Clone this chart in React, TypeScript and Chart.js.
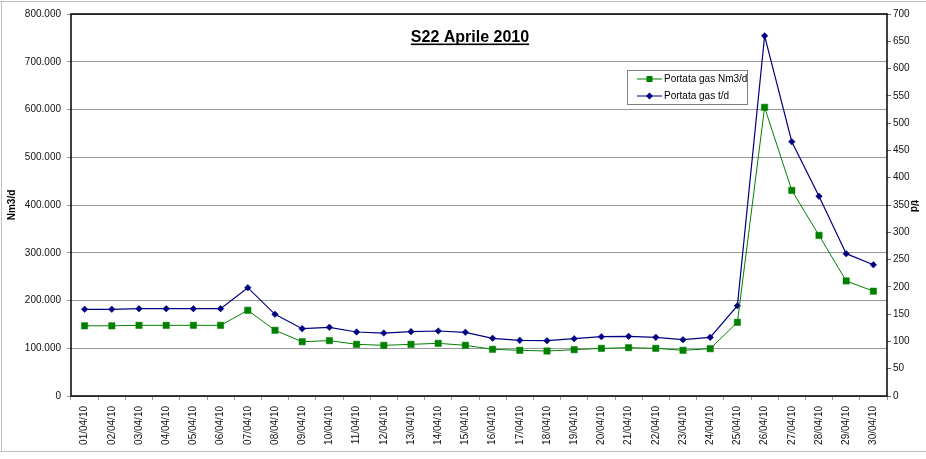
import React, { useEffect, useRef } from "react";
import { Chart, registerables } from "chart.js";

Chart.register(...registerables);

const categories = [
  "01/04/10", "02/04/10", "03/04/10", "04/04/10", "05/04/10", "06/04/10",
  "07/04/10", "08/04/10", "09/04/10", "10/04/10", "11/04/10", "12/04/10",
  "13/04/10", "14/04/10", "15/04/10", "16/04/10", "17/04/10", "18/04/10",
  "19/04/10", "20/04/10", "21/04/10", "22/04/10", "23/04/10", "24/04/10",
  "25/04/10", "26/04/10", "27/04/10", "28/04/10", "29/04/10", "30/04/10",
];

const portataNm3 = [
  147000, 147000, 148000, 148000, 148000, 148000, 179500, 137600, 113700, 116000,
  108200, 106100, 108200, 110300, 106200, 97800, 95700, 94200, 97000, 99800,
  101200, 99800, 95700, 99100, 154300, 604600, 430500, 336500, 241000, 219500,
];

const portataTd = [
  158.9, 158.9, 160, 160, 160, 160, 198.5, 149.7, 123.4, 125.9,
  117.3, 115.4, 117.9, 119.1, 116.7, 105.7, 102, 101.3, 105, 108.7,
  109.3, 107.5, 103.2, 107.5, 165.5, 660, 466, 366, 260.8, 240.6,
];

const titleText = "S22 Aprile 2010";
const leftAxisTitle = "Nm3/d";
const rightAxisTitle = "t/d";
const seriesNames = ["Portata gas Nm3/d", "Portata gas t/d"];

const FONT = "'Liberation Sans', Arial, sans-serif";
const GREEN = "#008000";
const NAVY = "#000080";

function fmtIt(v: number): string {
  const s = Math.round(v).toString();
  return s.replace(/\B(?=(\d{3})+(?!\d))/g, ".");
}

const decorPlugin = {
  id: "decor",
  beforeDatasetsDraw(chart: any) {
    const { ctx, chartArea } = chart;
    ctx.save();
    ctx.strokeStyle = "#000";
    ctx.lineWidth = 1.5;
    ctx.strokeRect(chartArea.left, chartArea.top, chartArea.right - chartArea.left, chartArea.bottom - chartArea.top);
    ctx.restore();
  },
  afterDraw(chart: any) {
    const { ctx } = chart;
    ctx.save();
    // outer border
    ctx.strokeStyle = "#c0c0c0";
    ctx.lineWidth = 1;
    ctx.beginPath();
    ctx.moveTo(0, 1.5);
    ctx.lineTo(926, 1.5);
    ctx.moveTo(1.5, 1.5);
    ctx.lineTo(1.5, 451.5);
    ctx.moveTo(0, 451.5);
    ctx.lineTo(926, 451.5);
    ctx.stroke();

    // title
    ctx.fillStyle = "#000";
    ctx.font = `bold 16px ${FONT}`;
    ctx.textAlign = "center";
    ctx.textBaseline = "alphabetic";
    ctx.fillText(titleText, 470, 41.5);
    const w = ctx.measureText(titleText).width;
    ctx.fillRect(470 - w / 2, 43.5, w, 1.6);

    // axis titles
    ctx.font = `bold 10px ${FONT}`;
    ctx.textBaseline = "middle";
    ctx.save();
    ctx.translate(12, 205);
    ctx.rotate(-Math.PI / 2);
    ctx.fillText(leftAxisTitle, 0, 0);
    ctx.restore();
    ctx.save();
    ctx.translate(914, 206);
    ctx.rotate(Math.PI / 2);
    ctx.fillText(rightAxisTitle, 0, 0);
    ctx.restore();

    // legend
    const bx = 627.5, by = 70.5, bw = 120, bh = 34;
    ctx.fillStyle = "#fff";
    ctx.fillRect(bx, by, bw, bh);
    ctx.strokeStyle = "#808080";
    ctx.lineWidth = 1;
    ctx.strokeRect(bx, by, bw, bh);
    const rows = [
      { y: 79, color: GREEN, style: "rect" },
      { y: 96, color: NAVY, style: "diamond" },
    ];
    ctx.font = `10px ${FONT}`;
    ctx.textAlign = "left";
    ctx.textBaseline = "middle";
    rows.forEach((r, i) => {
      ctx.strokeStyle = r.color;
      ctx.lineWidth = 1;
      ctx.beginPath();
      ctx.moveTo(637, r.y);
      ctx.lineTo(662, r.y);
      ctx.stroke();
      ctx.fillStyle = r.color;
      if (r.style === "rect") {
        ctx.fillRect(646.5, r.y - 3, 6, 6);
      } else {
        ctx.beginPath();
        ctx.moveTo(649.5, r.y - 3.5);
        ctx.lineTo(653, r.y);
        ctx.lineTo(649.5, r.y + 3.5);
        ctx.lineTo(646, r.y);
        ctx.closePath();
        ctx.fill();
      }
      ctx.fillStyle = "#000";
      ctx.fillText(seriesNames[i], 664, r.y);
    });
    ctx.restore();
  },
};

export default function App() {
  const ref = useRef<HTMLCanvasElement | null>(null);
  useEffect(() => {
    document.body.style.margin = "0";
    if (!ref.current) return;
    const chart = new Chart(ref.current, {
      type: "line",
      data: {
        labels: categories,
        datasets: [
          {
            label: seriesNames[0],
            data: portataNm3,
            yAxisID: "y",
            borderColor: GREEN,
            backgroundColor: GREEN,
            borderWidth: 1,
            pointStyle: "rect",
            pointRadius: 4.5,
            pointBorderWidth: 0.5,
            pointBackgroundColor: GREEN,
            pointBorderColor: GREEN,
            tension: 0,
          },
          {
            label: seriesNames[1],
            data: portataTd,
            yAxisID: "y1",
            borderColor: NAVY,
            backgroundColor: NAVY,
            borderWidth: 1.2,
            pointStyle: "rectRot",
            pointRadius: 3.3,
            pointBorderWidth: 0.5,
            pointBackgroundColor: NAVY,
            pointBorderColor: NAVY,
            tension: 0,
          },
        ],
      },
      options: {
        responsive: false,
        animation: false,
        devicePixelRatio: 1,
        layout: { padding: { top: 14, left: 0, right: 0, bottom: 0 } },
        plugins: {
          legend: { display: false },
          title: { display: false },
          tooltip: { enabled: false },
        },
        scales: {
          x: {
            type: "category",
            offset: true,
            grid: {
              display: true,
              offset: true,
              drawOnChartArea: false,
              drawTicks: true,
              tickLength: 4,
              color: "#999999",
            },
            border: { display: false },
            ticks: {
              autoSkip: false,
              maxRotation: 90,
              minRotation: 90,
              padding: 6,
              color: "#111",
              font: { family: FONT, size: 10 },
            },
            afterFit(scale: any) {
              scale.height = 63;
            },
          },
          y: {
            position: "left",
            min: 0,
            max: 800000,
            grid: {
              color: "#999999",
              drawTicks: true,
              tickLength: 4,
            },
            border: { display: false },
            ticks: {
              stepSize: 100000,
              padding: 6,
              color: "#111",
              font: { family: FONT, size: 10 },
              callback: (v: any) => fmtIt(Number(v)),
            },
            afterFit(scale: any) {
              scale.width = 71;
            },
          },
          y1: {
            position: "right",
            min: 0,
            max: 700,
            grid: {
              drawOnChartArea: false,
              drawTicks: true,
              tickLength: 4,
              color: "#666666",
            },
            border: { display: false },
            ticks: {
              stepSize: 50,
              padding: 2,
              color: "#111",
              font: { family: FONT, size: 10 },
            },
            afterFit(scale: any) {
              scale.width = 39;
            },
          },
        },
      },
      plugins: [decorPlugin],
    });
    return () => chart.destroy();
  }, []);
  return <canvas ref={ref} width={926} height={459} style={{ display: "block" }} />;
}
